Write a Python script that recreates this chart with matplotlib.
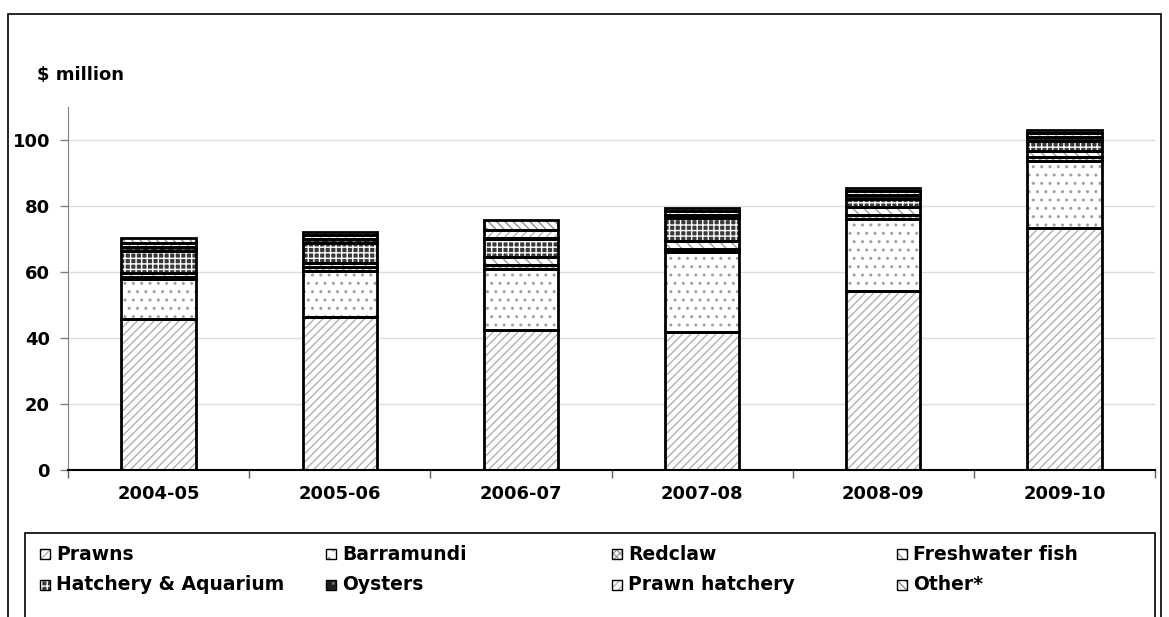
import matplotlib
matplotlib.use("Agg")
import matplotlib.pyplot as plt
import numpy as np
from matplotlib.patches import Rectangle

# values, $ million
years = ["2004-05", "2005-06", "2006-07", "2007-08", "2008-09", "2009-10"]
prawns = [45.9, 46.5, 42.4, 41.7, 54.3, 73.2]
barramundi = [11.9, 13.9, 18.5, 24.3, 21.8, 20.5]
redclaw = [0.8, 1.0, 1.2, 1.0, 1.2, 1.2]
freshwater_fish = [1.0, 1.2, 2.5, 2.5, 2.5, 1.8]
hatchery_aquarium = [6.9, 6.3, 5.3, 6.8, 2.2, 3.1]
oysters = [1.0, 1.0, 0.5, 1.0, 1.3, 1.2]
prawn_hatchery = [1.4, 1.3, 2.3, 1.2, 1.2, 1.2]
other = [1.3, 0.8, 3.1, 0.8, 0.9, 0.8]

series = [
    ("Prawns", prawns),
    ("Barramundi", barramundi),
    ("Redclaw", redclaw),
    ("Freshwater fish", freshwater_fish),
    ("Hatchery & Aquarium", hatchery_aquarium),
    ("Oysters", oysters),
    ("Prawn hatchery", prawn_hatchery),
    ("Other*", other),
]

# (facecolor, hatch colour, hatch)
STYLES = {
    "Prawns": ("white", "#b0b0b0", "////"),
    "Barramundi": ("white", "#a0a0a0", ".."),
    "Redclaw": ("white", "#a0a0a0", "xxxxx"),
    "Freshwater fish": ("white", "#a0a0a0", "\\\\\\"),
    "Hatchery & Aquarium": ("#3a3a3a", "white", "+++"),
    "Oysters": ("#1e1e1e", "#707070", ".."),
    "Prawn hatchery": ("white", "#b4b4b4", "////"),
    "Other*": ("white", "#909090", "\\\\\\\\"),
}

W, H = 1169, 617
plt.rcParams["font.family"] = "DejaVu Sans"
plt.rcParams["font.weight"] = "bold"
plt.rcParams["hatch.linewidth"] = 1.0

fig = plt.figure(figsize=(W / 100, H / 100), dpi=100)


def fx(x):
    return x / W


def fy(y):
    return 1 - y / H


# outer frame (runs off the bottom of the picture)
fig.add_artist(Rectangle((fx(8), fy(640)), fx(1161) - fx(8), fy(14) - fy(640),
                         transform=fig.transFigure, fill=False, edgecolor="black", linewidth=1.2))

ax = fig.add_axes([fx(68), fy(470), fx(1155) - fx(68), fy(107) - fy(470)])
x = np.arange(len(years))
width = 0.41
bottom = np.zeros(len(years))
for name, vals in series:
    fc, hc, hatch = STYLES[name]
    vals = np.array(vals)
    ax.bar(x, vals, width, bottom=bottom, facecolor=fc, edgecolor=hc, hatch=hatch, linewidth=0, zorder=2)
    ax.bar(x, vals, width, bottom=bottom, fill=False, edgecolor="black", linewidth=2, zorder=3)
    bottom += vals

ax.set_xlim(-0.5, len(years) - 0.5)
ax.set_ylim(0, 110)
ax.set_yticks(np.arange(0, 101, 20))
ax.set_xticks(x)
ax.set_xticklabels(years)
ax.set_xticks(np.arange(-0.5, len(years), 1.0), minor=True)
ax.tick_params(axis="x", which="major", length=0, pad=11, labelsize=13)
ax.tick_params(axis="x", which="minor", length=6, color="#606060", width=1)
ax.tick_params(axis="y", length=6, color="#808080", width=1, pad=7, labelsize=13)
ax.yaxis.grid(True, color="#dedede", linewidth=1)
ax.set_axisbelow(True)
for s in ("top", "right"):
    ax.spines[s].set_visible(False)
ax.spines["left"].set_color("#808080")
ax.spines["bottom"].set_color("black")
ax.spines["bottom"].set_linewidth(1.5)

fig.text(fx(37), fy(80), "$ million", fontsize=13, fontweight="bold", va="baseline", ha="left")

# legend box and entries
fig.add_artist(Rectangle((fx(25), fy(640)), fx(1155) - fx(25), fy(533) - fy(640),
                         transform=fig.transFigure, fill=False, edgecolor="black", linewidth=1.2))
col_x = [40, 326, 612, 897]
row_y = [554, 585]
for i, (name, _) in enumerate(series):
    fc, hc, hatch = STYLES[name]
    cx, cy = col_x[i % 4], row_y[i // 4]
    fig.add_artist(Rectangle((fx(cx), fy(cy + 5)), fx(10), fy(0) - fy(10), transform=fig.transFigure,
                             facecolor=fc, edgecolor=hc, hatch=hatch, linewidth=0))
    fig.add_artist(Rectangle((fx(cx), fy(cy + 5)), fx(10), fy(0) - fy(10), transform=fig.transFigure,
                             fill=False, edgecolor="black", linewidth=1))
    fig.text(fx(cx + 16), fy(cy), name, fontsize=13.5, fontweight="bold", va="center", ha="left")

fig.savefig("out.png", dpi=100)
